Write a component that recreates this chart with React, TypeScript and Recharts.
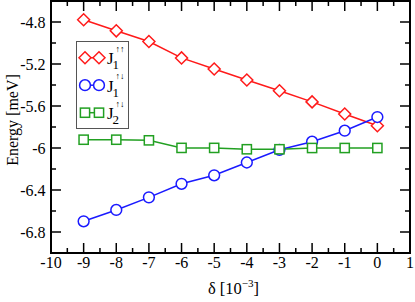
import React from 'react';
import { LineChart, Line, XAxis, YAxis, Label, ReferenceArea } from 'recharts';

const deltas = [-9, -8, -7, -6, -5, -4, -3, -2, -1, 0];
const j1Parallel = [-4.779, -4.884, -4.986, -5.142, -5.248, -5.352, -5.455, -5.561, -5.676, -5.788];
const j1Anti = [-6.698, -6.59, -6.47, -6.341, -6.26, -6.138, -6.017, -5.94, -5.835, -5.705];
const j2Anti = [-5.921, -5.921, -5.927, -5.999, -5.999, -6.012, -6.012, -6.0, -6.0, -6.0];

const xMajorTicks = [-10, -9, -8, -7, -6, -5, -4, -3, -2, -1, 0, 1];
const xMinorTicks = [-9.5, -8.5, -7.5, -6.5, -5.5, -4.5, -3.5, -2.5, -1.5, -0.5, 0.5];
const yMajorTicks = [-6.8, -6.4, -6, -5.6, -5.2, -4.8];
const yMinorTicks = [-7, -6.6, -6.2, -5.8, -5.4, -5, -4.6];

const seriesNames = ['j1pp', 'j1pa', 'j2pa'];
const RED = '#ff1a1a';
const BLUE = '#1a1aff';
const GREEN = '#22a022';
const SERIF_NAME = 'Liberation Serif';
const SERIF = { fontFamily: SERIF_NAME };

const W = 415;
const H = 302;
const MARGIN = { top: 1, right: 5, bottom: 0, left: 0 };
const PLOT_TOP = MARGIN.top;
const PLOT_RIGHT = W - MARGIN.right;

const rows = deltas.map((d, i) => ({
  delta: d,
  [seriesNames[0]]: j1Parallel[i],
  [seriesNames[1]]: j1Anti[i],
  [seriesNames[2]]: j2Anti[i],
}));

const allXTicks = [...xMajorTicks, ...xMinorTicks].sort((a, b) => a - b);
const allYTicks = [...yMajorTicks, ...yMinorTicks].sort((a, b) => a - b);

const LONG = 10;
const SHORT = 5;

function Diamond(cx: number, cy: number, color: string, key?: any) {
  return (
    <polygon
      key={key}
      points={`${cx - 6},${cy} ${cx},${cy - 6} ${cx + 6},${cy} ${cx},${cy + 6}`}
      fill="#fff"
      stroke={color}
      strokeWidth={1.5}
    />
  );
}
function Ring(cx: number, cy: number, color: string, key?: any) {
  return <circle key={key} cx={cx} cy={cy} r={5.4} fill="#fff" stroke={color} strokeWidth={1.5} />;
}
function Box(cx: number, cy: number, color: string, key?: any) {
  return <rect key={key} x={cx - 4.6} y={cy - 4.6} width={9.2} height={9.2} fill="#fff" stroke={color} strokeWidth={1.5} />;
}

const near = (arr: number[], v: number) => arr.some((t) => Math.abs(t - v) < 1e-9);

function XTick(props: any) {
  const { x, y, payload } = props;
  const v = payload.value;
  const major = near(xMajorTicks, v);
  const len = major ? LONG : SHORT;
  return (
    <g>
      <line x1={x} x2={x} y1={y} y2={y - len} stroke="#000" strokeWidth={1.5} />
      <line x1={x} x2={x} y1={PLOT_TOP} y2={PLOT_TOP + len} stroke="#000" strokeWidth={1.5} />
      {major ? (
        <text x={x} y={y + 15} textAnchor="middle" fontSize={16} fontFamily={SERIF_NAME} style={SERIF} fill="#000">
          {String(v)}
        </text>
      ) : null}
    </g>
  );
}

function YTick(props: any) {
  const { x, y, payload } = props;
  const v = payload.value;
  const major = near(yMajorTicks, v);
  const len = major ? LONG : SHORT;
  return (
    <g>
      <line x1={x} x2={x + len} y1={y} y2={y} stroke="#000" strokeWidth={1.5} />
      <line x1={PLOT_RIGHT} x2={PLOT_RIGHT - len} y1={y} y2={y} stroke="#000" strokeWidth={1.5} />
      {major ? (
        <text x={x - 5.5} y={y + 5.5} textAnchor="end" fontSize={16} fontFamily={SERIF_NAME} style={SERIF} fill="#000">
          {String(v)}
        </text>
      ) : null}
    </g>
  );
}

const legendRows = [
  { color: RED, marker: Diamond, sup: '\u2191\u2191', sub: '1' },
  { color: BLUE, marker: Ring, sup: '\u2191\u2193', sub: '1' },
  { color: GREEN, marker: Box, sup: '\u2191\u2193', sub: '2' },
];

function LegendPanel() {
  return (
    <div
      style={{
        position: 'absolute',
        left: 76,
        top: 41,
        border: '1px solid #555',
        width: 53,
        height: 88,
        boxSizing: 'border-box',
        background: '#fff',
      }}
    >
      <svg width={51} height={86} style={{ display: 'block' }}>
        {legendRows.map((r, i) => {
          const cy = 15.7 + i * 27.5;
          return (
            <g key={i}>
              <line x1={8} x2={22} y1={cy} y2={cy} stroke={r.color} strokeWidth={1.5} />
              {r.marker(8, cy, r.color)}
              {r.marker(22, cy, r.color)}
              <text x={30} y={cy + 6.6} fontSize={17} fontFamily={SERIF_NAME} style={SERIF} fill="#000">J</text>
              <text x={38.5} y={cy - 6} fontSize={9} fontFamily={SERIF_NAME} style={SERIF} fill="#000">{r.sup}</text>
              <text x={35.5} y={cy + 11.6} fontSize={13} fontFamily={SERIF_NAME} style={SERIF} fill="#000">{r.sub}</text>
            </g>
          );
        })}
      </svg>
    </div>
  );
}

function YTitle(props: any) {
  const { viewBox } = props;
  const cx = viewBox.x + 18;
  const cy = viewBox.y + viewBox.height / 2 - 7;
  return (
    <text x={cx} y={cy} transform={`rotate(-90, ${cx}, ${cy})`} textAnchor="middle" fontSize={16} fontFamily={SERIF_NAME} style={SERIF} fill="#000">
      Energy [meV]
    </text>
  );
}

function XTitle(props: any) {
  const { viewBox } = props;
  const cx = viewBox.x + viewBox.width / 2 + 3;
  const by = viewBox.y + 41;
  return (
    <text x={cx} y={by} textAnchor="middle" fontSize={16.5} fontFamily={SERIF_NAME} style={SERIF} fill="#000">
      <tspan>{'\u03b4 [10'}</tspan>
      <tspan dy={-7} fontSize={11}>{'\u22123'}</tspan>
      <tspan dy={7}>]</tspan>
    </text>
  );
}

export default function App() {
  return (
    <div style={{ position: 'absolute', left: 0, top: 0, width: W, height: H, background: '#fff' }}>
      <LineChart width={W} height={H} data={rows} margin={MARGIN}>
        <XAxis
          xAxisId="x"
          dataKey="delta"
          type="number"
          domain={[-10, 1]}
          ticks={allXTicks}
          interval={0}
          height={49}
          tickLine={false}
          tickSize={0}
          tickMargin={0}
          tick={<XTick />}
          axisLine={{ stroke: '#000', strokeWidth: 2 }}
        >
          <Label content={<XTitle />} />
        </XAxis>
        <YAxis
          yAxisId="y"
          type="number"
          domain={[-7, -4.6]}
          ticks={allYTicks}
          interval={0}
          width={51}
          tickLine={false}
          tickSize={0}
          tickMargin={0}
          tick={<YTick />}
          axisLine={{ stroke: '#000', strokeWidth: 2 }}
        >
          <Label content={<YTitle />} />
        </YAxis>
        <ReferenceArea
          xAxisId="x"
          yAxisId="y"
          x1={-10}
          x2={1}
          y1={-7}
          y2={-4.6}
          fill="none"
          fillOpacity={0}
          stroke="#000"
          strokeWidth={2}
        />
        <Line
          xAxisId="x"
          yAxisId="y"
          dataKey={seriesNames[0]}
          stroke={RED}
          strokeWidth={1.5}
          isAnimationActive={false}
          dot={(p: any) => Diamond(p.cx, p.cy, RED, `d${p.index}`)}
        />
        <Line
          xAxisId="x"
          yAxisId="y"
          dataKey={seriesNames[1]}
          stroke={BLUE}
          strokeWidth={1.5}
          isAnimationActive={false}
          dot={(p: any) => Ring(p.cx, p.cy, BLUE, `c${p.index}`)}
        />
        <Line
          xAxisId="x"
          yAxisId="y"
          dataKey={seriesNames[2]}
          stroke={GREEN}
          strokeWidth={1.5}
          isAnimationActive={false}
          dot={(p: any) => Box(p.cx, p.cy, GREEN, `s${p.index}`)}
        />
      </LineChart>
      <LegendPanel />
    </div>
  );
}
